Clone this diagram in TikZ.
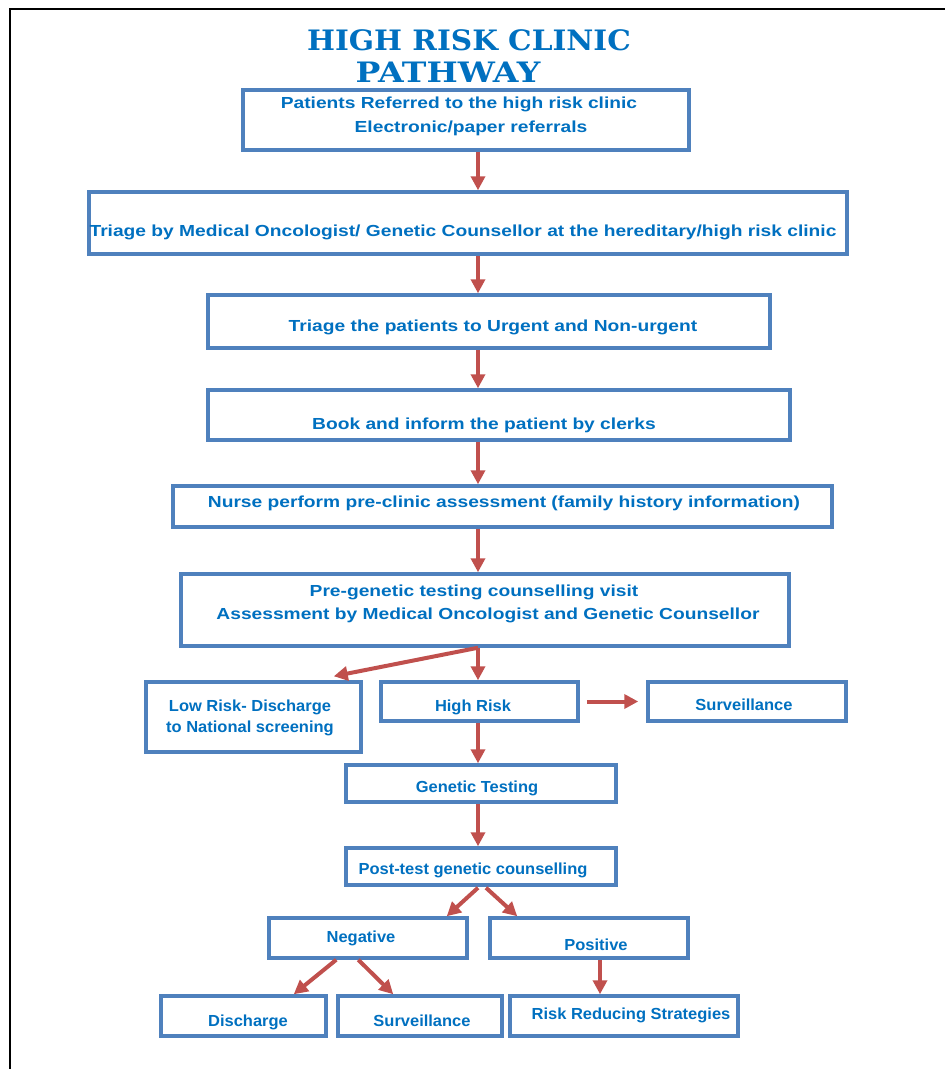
\documentclass[tikz,border=0pt]{standalone}
\usepackage{fontspec}
\usepackage{graphicx}
\setmainfont{Liberation Sans}
\newfontfamily\titlefont{DejaVu Serif}
\usetikzlibrary{arrows.meta,calc,fit}
\definecolor{tblue}{RGB}{0,112,192}
\definecolor{bblue}{RGB}{79,129,189}
\definecolor{ared}{RGB}{192,80,77}
\newcommand{\hwide}[1]{\scalebox{1.2}[1]{#1}}
\newcommand{\hslim}[1]{\scalebox{1.03}[1]{#1}}
\tikzset{
 box/.style={draw=bblue, line width=3.5pt, fill=white, inner sep=0pt},
 txt/.style={text=tblue, font=\bfseries\fontsize{16}{19}\selectfont, inner sep=0pt, anchor=center},
 stxt/.style={text=tblue, font=\bfseries\fontsize{16}{19}\selectfont, inner sep=0pt, anchor=center},
 ttl/.style={text=tblue, font=\titlefont\bfseries\fontsize{29}{34}\selectfont, inner sep=0pt, anchor=center},
 arr/.style={draw=ared, line width=4pt, -{Triangle[length=14pt,width=14pt]}},
 frame/.style={draw=black, line width=2.5pt},
}
\begin{document}
\begin{tikzpicture}[x=1pt,y=-1pt]
\useasboundingbox (0,0) rectangle (945,1069);
% frame
\coordinate (fa) at (945,9);
\coordinate (fb) at (10,9);
\coordinate (fc) at (10,1069);
\draw[frame] (fa) -- (fb) -- (fc);
% title
\node[ttl] (t1) at (469,40) {\scalebox{1.02}[0.97]{HIGH RISK CLINIC}};
\node[ttl] (t2) at (448,72) {\scalebox{1.14}[0.97]{PATHWAY}};
% boxes
\node[box, fit={(243,90) (689,150)}] (b1) {};
\node[box, fit={(89,192) (847,254)}] (b2) {};
\node[box, fit={(208,295) (770,348)}] (b3) {};
\node[box, fit={(208,390) (790,440)}] (b4) {};
\node[box, fit={(173,486) (832,527)}] (b5) {};
\node[box, fit={(181,574) (789,646)}] (b6) {};
\node[box, fit={(146,682) (361,752)}] (b7) {};
\node[box, fit={(381,682) (578,721)}] (b8) {};
\node[box, fit={(648,682) (846,721)}] (b9) {};
\node[box, fit={(346,765) (616,802)}] (b10) {};
\node[box, fit={(346,848) (616,885)}] (b11) {};
\node[box, fit={(269,918) (467,958)}] (b12) {};
\node[box, fit={(490,918) (688,958)}] (b13) {};
\node[box, fit={(161,996) (326,1036)}] (b14) {};
\node[box, fit={(338,996) (502,1036)}] (b15) {};
\node[box, fit={(510,996) (738,1036)}] (b16) {};
% texts
\node[txt] (x1a) at (459,104) {\hwide{Patients Referred to the high risk clinic}};
\node[txt] (x1b) at (471,128) {\hwide{Electronic/paper referrals}};
\node[txt] (x2) at (463,232) {\hwide{Triage by Medical Oncologist/ Genetic Counsellor at the hereditary/high risk clinic}};
\node[txt] (x3) at (493,327) {\hwide{Triage the patients to Urgent and Non-urgent}};
\node[txt] (x4) at (484,425) {\hwide{Book and inform the patient by clerks}};
\node[txt] (x5) at (504,503) {\hwide{Nurse perform pre-clinic assessment (family history information)}};
\node[txt] (x6a) at (474,592) {\hwide{Pre-genetic testing counselling visit}};
\node[txt] (x6b) at (488,615) {\hwide{Assessment by Medical Oncologist and Genetic Counsellor}};
\node[stxt] (x7a) at (250,707) {\hslim{Low Risk- Discharge}};
\node[stxt] (x7b) at (250,728) {\hslim{to National screening}};
\node[stxt] (x8) at (473,707) {\hslim{High Risk}};
\node[stxt] (x9) at (744,705) {\hslim{Surveillance}};
\node[stxt] (x10) at (477,788) {\hslim{Genetic Testing}};
\node[stxt] (x11) at (473,870) {\hslim{Post-test genetic counselling}};
\node[stxt] (x12) at (361,938) {\hslim{Negative}};
\node[stxt] (x13) at (596,945) {\hslim{Positive}};
\node[stxt] (x14) at (248,1022) {\hslim{Discharge}};
\node[stxt] (x15) at (422,1021) {\hslim{Surveillance}};
\node[stxt] (x16) at (631,1015) {\hslim{Risk Reducing Strategies}};
% arrows
\coordinate (ax) at (478,0);
\coordinate (px) at (600,0);
\draw[arr] (b1.south -| ax) -- (b2.north -| ax);
\draw[arr] (b2.south -| ax) -- (b3.north -| ax);
\draw[arr] (b3.south -| ax) -- (b4.north -| ax);
\draw[arr] (b4.south -| ax) -- (b5.north -| ax);
\draw[arr] (b5.south -| ax) -- (b6.north -| ax);
\draw[arr] (b6.south -| ax) -- (b8.north -| ax);
\draw[arr] (b6.south -| ax) -- ($(b7.north east)+(-29,-4)$);
\draw[arr] ($(b8.east)+(7,0)$) -- ($(b9.west)+(-8,0)$);
\draw[arr] (b8.south -| ax) -- (b10.north -| ax);
\draw[arr] (b10.south -| ax) -- (b11.north -| ax);
\draw[arr] ($(b11.south -| ax)+(0,1)$) -- ($(b12.north east)+(-22,0)$);
\draw[arr] ($(b11.south -| ax)+(8,1)$) -- ($(b13.north west)+(29,0)$);
\draw[arr] ($(b12.south west)+(69,0)$) -- ($(b14.north east)+(-34,0)$);
\draw[arr] ($(b12.south west)+(91,0)$) -- ($(b15.north west)+(57,0)$);
\draw[arr] (b13.south -| px) -- (b16.north -| px);
\end{tikzpicture}
\end{document}
